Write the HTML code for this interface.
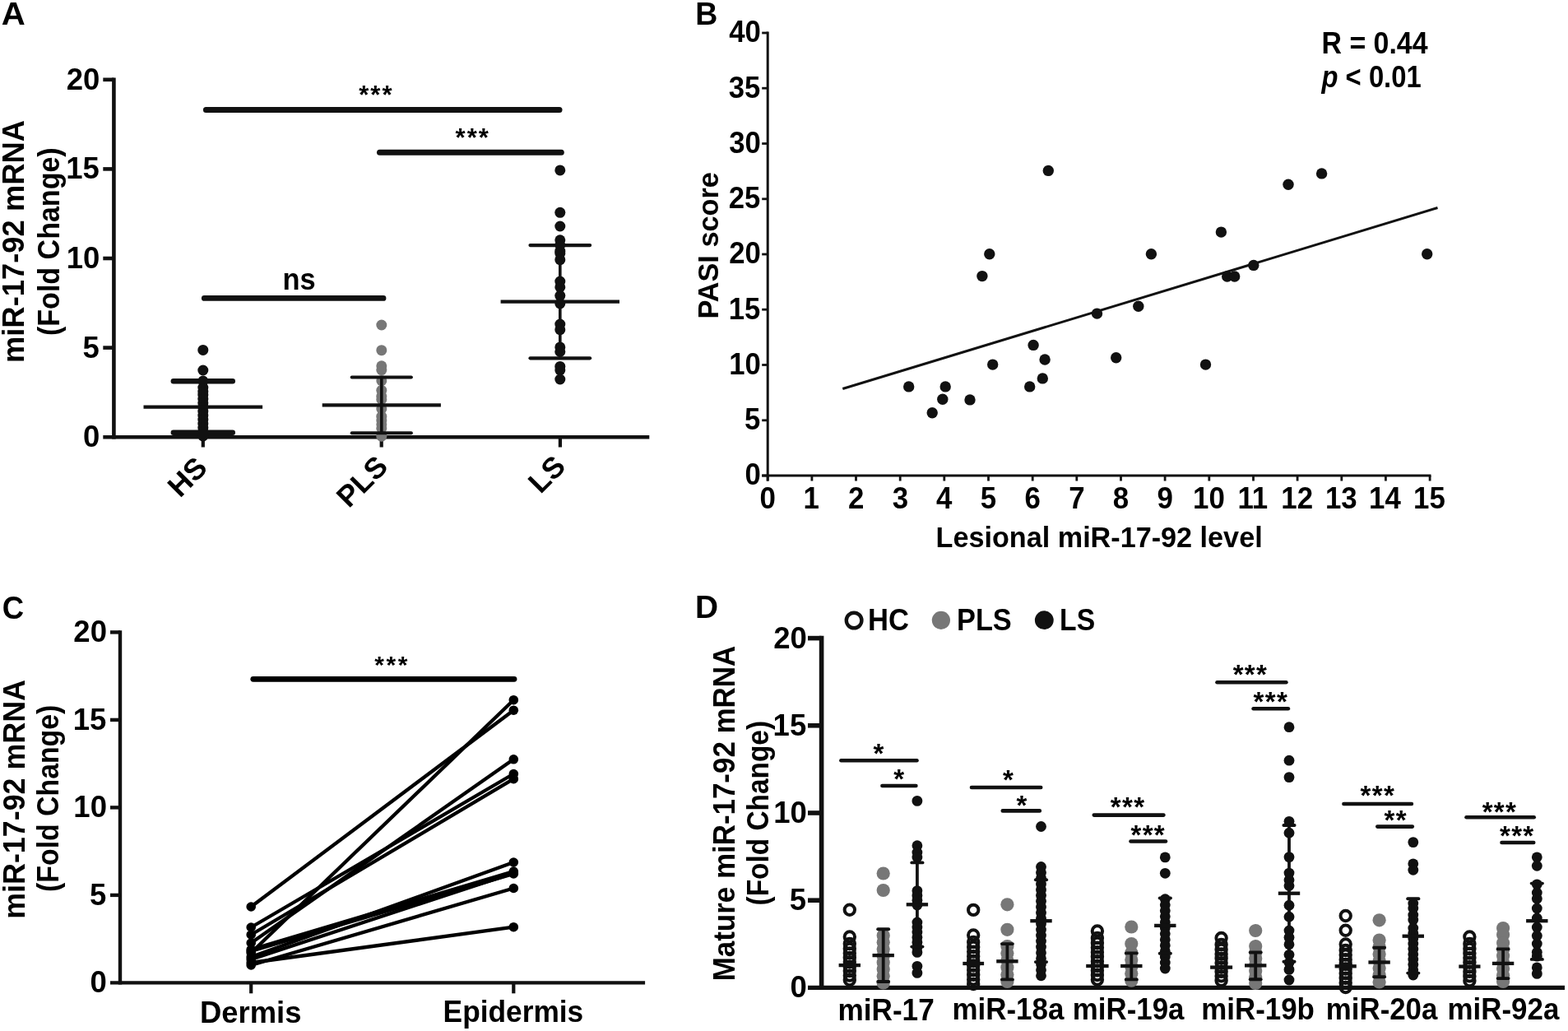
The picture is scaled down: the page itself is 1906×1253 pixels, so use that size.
<!DOCTYPE html>
<html><head><meta charset="utf-8"><style>
html,body{margin:0;padding:0;background:#fff;}
svg{display:block;}
text{font-family:"Liberation Sans", Arial, Helvetica, sans-serif;font-weight:bold;fill:#000;}
</style></head><body>
<svg width="1906" height="1253" viewBox="0 0 1906 1253">
<rect width="1906" height="1253" fill="#fff"/>
<text x="1.70" y="30.40" font-size="39.5" textLength="29.00" lengthAdjust="spacingAndGlyphs">A</text>
<line x1="138.4" y1="94.5" x2="138.4" y2="533.4" stroke="#111" stroke-width="4.6" stroke-linecap="butt"/>
<line x1="125.3" y1="531.2" x2="789.3" y2="531.2" stroke="#111" stroke-width="4.4" stroke-linecap="butt"/>
<line x1="125.3" y1="422.6" x2="138.4" y2="422.6" stroke="#111" stroke-width="4.6" stroke-linecap="butt"/>
<line x1="125.3" y1="314.0" x2="138.4" y2="314.0" stroke="#111" stroke-width="4.6" stroke-linecap="butt"/>
<line x1="125.3" y1="205.4" x2="138.4" y2="205.4" stroke="#111" stroke-width="4.6" stroke-linecap="butt"/>
<line x1="125.3" y1="96.8" x2="138.4" y2="96.8" stroke="#111" stroke-width="4.6" stroke-linecap="butt"/>
<text x="121.30" y="543.20" font-size="36.5" text-anchor="end">0</text>
<text x="120.76" y="434.60" font-size="36.5" text-anchor="end">5</text>
<text x="121.35" y="326.00" font-size="36.5" text-anchor="end">10</text>
<text x="120.80" y="217.40" font-size="36.5" text-anchor="end">15</text>
<text x="121.35" y="108.80" font-size="36.5" text-anchor="end">20</text>
<line x1="246.8" y1="531.2" x2="246.8" y2="543.5" stroke="#111" stroke-width="4.2" stroke-linecap="butt"/>
<line x1="463.7" y1="531.2" x2="463.7" y2="543.5" stroke="#111" stroke-width="4.2" stroke-linecap="butt"/>
<line x1="680.9" y1="531.2" x2="680.9" y2="543.5" stroke="#111" stroke-width="4.2" stroke-linecap="butt"/>
<text x="254.0" y="570.6" font-size="36" text-anchor="end" transform="rotate(-45 254.0 570.6)">HS</text>
<text x="473.6" y="569.1" font-size="36" text-anchor="end" transform="rotate(-45 473.6 569.1)">PLS</text>
<text x="689.5" y="568.8" font-size="36" text-anchor="end" transform="rotate(-45 689.5 568.8)">LS</text>
<text x="29.20" y="441.06" font-size="36.4" textLength="295.10" lengthAdjust="spacingAndGlyphs" transform="rotate(-90 29.20 441.06)">miR-17-92 mRNA</text>
<text x="72.10" y="408.00" font-size="36.4" textLength="228.68" lengthAdjust="spacingAndGlyphs" transform="rotate(-90 72.10 408.00)">(Fold Change)</text>
<circle cx="246.8" cy="425.4" r="6.5" fill="#111"/>
<circle cx="246.8" cy="450.0" r="6.5" fill="#111"/>
<circle cx="246.8" cy="463.0" r="6.5" fill="#111"/>
<circle cx="246.8" cy="471.0" r="6.5" fill="#111"/>
<circle cx="246.8" cy="476.0" r="6.5" fill="#111"/>
<circle cx="246.8" cy="480.0" r="6.5" fill="#111"/>
<circle cx="246.8" cy="485.0" r="6.5" fill="#111"/>
<circle cx="246.8" cy="490.0" r="6.5" fill="#111"/>
<circle cx="246.8" cy="495.0" r="6.5" fill="#111"/>
<circle cx="246.8" cy="500.0" r="6.5" fill="#111"/>
<circle cx="246.8" cy="505.0" r="6.5" fill="#111"/>
<circle cx="246.8" cy="510.0" r="6.5" fill="#111"/>
<circle cx="246.8" cy="515.0" r="6.5" fill="#111"/>
<circle cx="246.8" cy="520.0" r="6.5" fill="#111"/>
<circle cx="246.8" cy="525.0" r="6.5" fill="#111"/>
<circle cx="246.8" cy="530.0" r="6.5" fill="#111"/>
<line x1="246.8" y1="463.3" x2="246.8" y2="525.8" stroke="#111" stroke-width="3.6" stroke-linecap="butt"/>
<line x1="174.5" y1="494.6" x2="319.1" y2="494.6" stroke="#111" stroke-width="4.3" stroke-linecap="butt"/>
<line x1="210.8" y1="463.3" x2="282.8" y2="463.3" stroke="#111" stroke-width="6.4" stroke-linecap="round"/>
<line x1="210.8" y1="525.8" x2="282.8" y2="525.8" stroke="#111" stroke-width="6.4" stroke-linecap="round"/>
<circle cx="463.8" cy="395.0" r="6.5" fill="#777"/>
<circle cx="463.8" cy="425.7" r="6.5" fill="#777"/>
<circle cx="463.8" cy="444.8" r="6.5" fill="#777"/>
<circle cx="463.8" cy="449.6" r="6.5" fill="#777"/>
<circle cx="463.8" cy="462.7" r="6.5" fill="#777"/>
<circle cx="463.8" cy="474.3" r="6.5" fill="#777"/>
<circle cx="463.8" cy="481.5" r="6.5" fill="#777"/>
<circle cx="463.8" cy="485.5" r="6.5" fill="#777"/>
<circle cx="463.8" cy="497.0" r="6.5" fill="#777"/>
<circle cx="463.8" cy="506.2" r="6.5" fill="#777"/>
<circle cx="463.8" cy="511.0" r="6.5" fill="#777"/>
<circle cx="463.8" cy="515.8" r="6.5" fill="#777"/>
<circle cx="463.8" cy="520.6" r="6.5" fill="#777"/>
<circle cx="463.8" cy="530.2" r="6.5" fill="#777"/>
<line x1="463.8" y1="458.4" x2="463.8" y2="526.2" stroke="#111" stroke-width="3.6" stroke-linecap="butt"/>
<line x1="391.7" y1="492.3" x2="535.9" y2="492.3" stroke="#111" stroke-width="4.3" stroke-linecap="butt"/>
<line x1="427.7" y1="458.4" x2="499.9" y2="458.4" stroke="#111" stroke-width="4.0" stroke-linecap="round"/>
<line x1="427.7" y1="526.2" x2="499.9" y2="526.2" stroke="#111" stroke-width="4.0" stroke-linecap="round"/>
<circle cx="680.8" cy="206.9" r="6.5" fill="#111"/>
<circle cx="680.8" cy="258.3" r="6.5" fill="#111"/>
<circle cx="680.8" cy="275.0" r="6.5" fill="#111"/>
<circle cx="680.8" cy="291.8" r="6.5" fill="#111"/>
<circle cx="680.8" cy="298.0" r="6.5" fill="#111"/>
<circle cx="680.8" cy="305.2" r="6.5" fill="#111"/>
<circle cx="680.8" cy="308.1" r="6.5" fill="#111"/>
<circle cx="680.8" cy="315.7" r="6.5" fill="#111"/>
<circle cx="680.8" cy="342.1" r="6.5" fill="#111"/>
<circle cx="680.8" cy="348.9" r="6.5" fill="#111"/>
<circle cx="680.8" cy="359.3" r="6.5" fill="#111"/>
<circle cx="680.8" cy="369.0" r="6.5" fill="#111"/>
<circle cx="680.8" cy="394.0" r="6.5" fill="#111"/>
<circle cx="680.8" cy="400.7" r="6.5" fill="#111"/>
<circle cx="680.8" cy="421.9" r="6.5" fill="#111"/>
<circle cx="680.8" cy="427.5" r="6.5" fill="#111"/>
<circle cx="680.8" cy="445.4" r="6.5" fill="#111"/>
<circle cx="680.8" cy="449.8" r="6.5" fill="#111"/>
<circle cx="680.8" cy="461.0" r="6.5" fill="#111"/>
<line x1="680.8" y1="298.1" x2="680.8" y2="435.3" stroke="#111" stroke-width="3.6" stroke-linecap="butt"/>
<line x1="608.6" y1="366.6" x2="753.0" y2="366.6" stroke="#111" stroke-width="4.3" stroke-linecap="butt"/>
<line x1="644.5" y1="298.1" x2="717.1" y2="298.1" stroke="#111" stroke-width="4.2" stroke-linecap="round"/>
<line x1="644.5" y1="435.3" x2="717.1" y2="435.3" stroke="#111" stroke-width="4.2" stroke-linecap="round"/>
<line x1="250.4" y1="133.6" x2="680.0" y2="133.6" stroke="#111" stroke-width="7" stroke-linecap="round"/>
<text x="436.25 450.36 464.45" y="126.09" font-size="31">***</text>
<line x1="461.5" y1="185.2" x2="682.3" y2="185.2" stroke="#111" stroke-width="7" stroke-linecap="round"/>
<text x="553.56 567.66 581.76" y="177.69" font-size="31">***</text>
<line x1="248.3" y1="362.4" x2="466.0" y2="362.4" stroke="#111" stroke-width="6.8" stroke-linecap="round"/>
<text x="343.46" y="351.60" font-size="36.5" textLength="40.19" lengthAdjust="spacingAndGlyphs">ns</text>
<text x="845.26" y="30.30" font-size="39" textLength="27.11" lengthAdjust="spacingAndGlyphs">B</text>
<line x1="933.2" y1="38.6" x2="933.2" y2="584.5" stroke="#111" stroke-width="3.0" stroke-linecap="butt"/>
<line x1="926.2" y1="578.0" x2="1739.5" y2="578.0" stroke="#111" stroke-width="2.8" stroke-linecap="butt"/>
<line x1="926.2" y1="578.0" x2="933.2" y2="578.0" stroke="#111" stroke-width="2.8" stroke-linecap="butt"/>
<text x="905.55" y="589.30" font-size="36.3" textLength="19.28" lengthAdjust="spacingAndGlyphs">0</text>
<line x1="926.2" y1="510.8" x2="933.2" y2="510.8" stroke="#111" stroke-width="2.8" stroke-linecap="butt"/>
<text x="905.03" y="522.05" font-size="36.3" textLength="19.28" lengthAdjust="spacingAndGlyphs">5</text>
<line x1="926.2" y1="443.5" x2="933.2" y2="443.5" stroke="#111" stroke-width="2.8" stroke-linecap="butt"/>
<text x="886.31" y="454.80" font-size="36.3" textLength="38.56" lengthAdjust="spacingAndGlyphs">10</text>
<line x1="926.2" y1="376.2" x2="933.2" y2="376.2" stroke="#111" stroke-width="2.8" stroke-linecap="butt"/>
<text x="885.79" y="387.55" font-size="36.3" textLength="38.56" lengthAdjust="spacingAndGlyphs">15</text>
<line x1="926.2" y1="309.0" x2="933.2" y2="309.0" stroke="#111" stroke-width="2.8" stroke-linecap="butt"/>
<text x="886.31" y="320.30" font-size="36.3" textLength="38.56" lengthAdjust="spacingAndGlyphs">20</text>
<line x1="926.2" y1="241.8" x2="933.2" y2="241.8" stroke="#111" stroke-width="2.8" stroke-linecap="butt"/>
<text x="885.79" y="253.05" font-size="36.3" textLength="38.56" lengthAdjust="spacingAndGlyphs">25</text>
<line x1="926.2" y1="174.5" x2="933.2" y2="174.5" stroke="#111" stroke-width="2.8" stroke-linecap="butt"/>
<text x="886.31" y="185.80" font-size="36.3" textLength="38.56" lengthAdjust="spacingAndGlyphs">30</text>
<line x1="926.2" y1="107.2" x2="933.2" y2="107.2" stroke="#111" stroke-width="2.8" stroke-linecap="butt"/>
<text x="885.79" y="118.55" font-size="36.3" textLength="38.56" lengthAdjust="spacingAndGlyphs">35</text>
<line x1="926.2" y1="40.0" x2="933.2" y2="40.0" stroke="#111" stroke-width="2.8" stroke-linecap="butt"/>
<text x="886.31" y="51.30" font-size="36.3" textLength="38.56" lengthAdjust="spacingAndGlyphs">40</text>
<line x1="933.2" y1="578.0" x2="933.2" y2="584.5" stroke="#111" stroke-width="2.8" stroke-linecap="butt"/>
<text x="923.53" y="617.90" font-size="36.3" textLength="19.38" lengthAdjust="spacingAndGlyphs">0</text>
<line x1="986.9" y1="578.0" x2="986.9" y2="584.5" stroke="#111" stroke-width="2.8" stroke-linecap="butt"/>
<text x="976.49" y="617.90" font-size="36.3" textLength="19.38" lengthAdjust="spacingAndGlyphs">1</text>
<line x1="1040.5" y1="578.0" x2="1040.5" y2="584.5" stroke="#111" stroke-width="2.8" stroke-linecap="butt"/>
<text x="1030.94" y="617.90" font-size="36.3" textLength="19.38" lengthAdjust="spacingAndGlyphs">2</text>
<line x1="1094.2" y1="578.0" x2="1094.2" y2="584.5" stroke="#111" stroke-width="2.8" stroke-linecap="butt"/>
<text x="1084.68" y="617.90" font-size="36.3" textLength="19.38" lengthAdjust="spacingAndGlyphs">3</text>
<line x1="1147.8" y1="578.0" x2="1147.8" y2="584.5" stroke="#111" stroke-width="2.8" stroke-linecap="butt"/>
<text x="1138.00" y="617.90" font-size="36.3" textLength="19.38" lengthAdjust="spacingAndGlyphs">4</text>
<line x1="1201.5" y1="578.0" x2="1201.5" y2="584.5" stroke="#111" stroke-width="2.8" stroke-linecap="butt"/>
<text x="1191.74" y="617.90" font-size="36.3" textLength="19.38" lengthAdjust="spacingAndGlyphs">5</text>
<line x1="1255.2" y1="578.0" x2="1255.2" y2="584.5" stroke="#111" stroke-width="2.8" stroke-linecap="butt"/>
<text x="1245.49" y="617.90" font-size="36.3" textLength="19.38" lengthAdjust="spacingAndGlyphs">6</text>
<line x1="1308.8" y1="578.0" x2="1308.8" y2="584.5" stroke="#111" stroke-width="2.8" stroke-linecap="butt"/>
<text x="1299.15" y="617.90" font-size="36.3" textLength="19.38" lengthAdjust="spacingAndGlyphs">7</text>
<line x1="1362.5" y1="578.0" x2="1362.5" y2="584.5" stroke="#111" stroke-width="2.8" stroke-linecap="butt"/>
<text x="1352.81" y="617.90" font-size="36.3" textLength="19.38" lengthAdjust="spacingAndGlyphs">8</text>
<line x1="1416.1" y1="578.0" x2="1416.1" y2="584.5" stroke="#111" stroke-width="2.8" stroke-linecap="butt"/>
<text x="1406.47" y="617.90" font-size="36.3" textLength="19.38" lengthAdjust="spacingAndGlyphs">9</text>
<line x1="1469.8" y1="578.0" x2="1469.8" y2="584.5" stroke="#111" stroke-width="2.8" stroke-linecap="butt"/>
<text x="1450.02" y="617.90" font-size="36.3" textLength="38.76" lengthAdjust="spacingAndGlyphs">10</text>
<line x1="1523.5" y1="578.0" x2="1523.5" y2="584.5" stroke="#111" stroke-width="2.8" stroke-linecap="butt"/>
<text x="1504.38" y="617.90" font-size="36.3" textLength="36.84" lengthAdjust="spacingAndGlyphs">11</text>
<line x1="1577.1" y1="578.0" x2="1577.1" y2="584.5" stroke="#111" stroke-width="2.8" stroke-linecap="butt"/>
<text x="1557.34" y="617.90" font-size="36.3" textLength="38.76" lengthAdjust="spacingAndGlyphs">12</text>
<line x1="1630.8" y1="578.0" x2="1630.8" y2="584.5" stroke="#111" stroke-width="2.8" stroke-linecap="butt"/>
<text x="1610.92" y="617.90" font-size="36.3" textLength="38.76" lengthAdjust="spacingAndGlyphs">13</text>
<line x1="1684.4" y1="578.0" x2="1684.4" y2="584.5" stroke="#111" stroke-width="2.8" stroke-linecap="butt"/>
<text x="1664.05" y="617.90" font-size="36.3" textLength="38.76" lengthAdjust="spacingAndGlyphs">14</text>
<line x1="1738.1" y1="578.0" x2="1738.1" y2="584.5" stroke="#111" stroke-width="2.8" stroke-linecap="butt"/>
<text x="1718.06" y="617.90" font-size="36.3" textLength="38.76" lengthAdjust="spacingAndGlyphs">15</text>
<text x="1137.58" y="665.00" font-size="34.5" textLength="397.06" lengthAdjust="spacingAndGlyphs">Lesional miR-17-92 level</text>
<text x="872.70" y="387.53" font-size="35.3" textLength="178.37" lengthAdjust="spacingAndGlyphs" transform="rotate(-90 872.70 387.53)">PASI score</text>
<text x="1606.50" y="64.70" font-size="36.4" textLength="129.08" lengthAdjust="spacingAndGlyphs">R = 0.44</text>
<text x="1606.5" y="106.0" font-size="36.4" text-anchor="start" textLength="121.2" lengthAdjust="spacingAndGlyphs"><tspan font-style="italic">p</tspan> &lt; 0.01</text>
<line x1="1024.3" y1="472.5" x2="1747.5" y2="252.5" stroke="#111" stroke-width="3.0" stroke-linecap="butt"/>
<circle cx="1104.7" cy="469.9" r="6.7" fill="#111"/>
<circle cx="1133.2" cy="501.8" r="6.7" fill="#111"/>
<circle cx="1145.8" cy="485.3" r="6.7" fill="#111"/>
<circle cx="1149.2" cy="469.9" r="6.7" fill="#111"/>
<circle cx="1179.0" cy="485.9" r="6.7" fill="#111"/>
<circle cx="1193.9" cy="335.6" r="6.7" fill="#111"/>
<circle cx="1202.8" cy="308.8" r="6.7" fill="#111"/>
<circle cx="1206.7" cy="443.1" r="6.7" fill="#111"/>
<circle cx="1251.7" cy="469.9" r="6.7" fill="#111"/>
<circle cx="1256.1" cy="419.4" r="6.7" fill="#111"/>
<circle cx="1267.3" cy="459.9" r="6.7" fill="#111"/>
<circle cx="1270.1" cy="437.0" r="6.7" fill="#111"/>
<circle cx="1274.3" cy="207.4" r="6.7" fill="#111"/>
<circle cx="1333.5" cy="381.1" r="6.7" fill="#111"/>
<circle cx="1356.7" cy="434.7" r="6.7" fill="#111"/>
<circle cx="1383.8" cy="372.2" r="6.7" fill="#111"/>
<circle cx="1399.4" cy="308.8" r="6.7" fill="#111"/>
<circle cx="1465.5" cy="443.1" r="6.7" fill="#111"/>
<circle cx="1484.4" cy="282.1" r="6.7" fill="#111"/>
<circle cx="1491.7" cy="336.0" r="6.7" fill="#111"/>
<circle cx="1500.7" cy="336.0" r="6.7" fill="#111"/>
<circle cx="1523.8" cy="322.4" r="6.7" fill="#111"/>
<circle cx="1566.0" cy="224.2" r="6.7" fill="#111"/>
<circle cx="1606.6" cy="210.9" r="6.7" fill="#111"/>
<circle cx="1734.7" cy="308.8" r="6.7" fill="#111"/>
<text x="2.64" y="752.00" font-size="39.5" textLength="26.35" lengthAdjust="spacingAndGlyphs">C</text>
<line x1="146.0" y1="766.2" x2="146.0" y2="1196.6" stroke="#111" stroke-width="4.4" stroke-linecap="butt"/>
<line x1="134.0" y1="1194.4" x2="784.1" y2="1194.4" stroke="#111" stroke-width="4.4" stroke-linecap="butt"/>
<line x1="134.0" y1="1087.9" x2="146.0" y2="1087.9" stroke="#111" stroke-width="4.4" stroke-linecap="butt"/>
<line x1="134.0" y1="981.4" x2="146.0" y2="981.4" stroke="#111" stroke-width="4.4" stroke-linecap="butt"/>
<line x1="134.0" y1="874.9" x2="146.0" y2="874.9" stroke="#111" stroke-width="4.4" stroke-linecap="butt"/>
<line x1="134.0" y1="768.4" x2="146.0" y2="768.4" stroke="#111" stroke-width="4.4" stroke-linecap="butt"/>
<text x="129.90" y="1206.30" font-size="36.5" text-anchor="end">0</text>
<text x="129.36" y="1099.80" font-size="36.5" text-anchor="end">5</text>
<text x="129.95" y="993.30" font-size="36.5" text-anchor="end">10</text>
<text x="129.40" y="886.80" font-size="36.5" text-anchor="end">15</text>
<text x="129.95" y="780.30" font-size="36.5" text-anchor="end">20</text>
<line x1="305.2" y1="1194.4" x2="305.2" y2="1207.3" stroke="#111" stroke-width="4.2" stroke-linecap="butt"/>
<line x1="624.3" y1="1194.4" x2="624.3" y2="1207.3" stroke="#111" stroke-width="4.2" stroke-linecap="butt"/>
<text x="242.93" y="1242.60" font-size="36.5" textLength="123.55" lengthAdjust="spacingAndGlyphs">Dermis</text>
<text x="538.61" y="1242.40" font-size="36.5" textLength="170.60" lengthAdjust="spacingAndGlyphs">Epidermis</text>
<text x="29.80" y="1116.73" font-size="36.4" textLength="290.65" lengthAdjust="spacingAndGlyphs" transform="rotate(-90 29.80 1116.73)">miR-17-92 mRNA</text>
<text x="71.30" y="1083.89" font-size="36.4" textLength="227.16" lengthAdjust="spacingAndGlyphs" transform="rotate(-90 71.30 1083.89)">(Fold Change)</text>
<line x1="307.8" y1="825.3" x2="625.0" y2="825.3" stroke="#000" stroke-width="6.8" stroke-linecap="round"/>
<text x="455.35 469.55 483.75" y="817.50" font-size="30">***</text>
<line x1="305.2" y1="1102.0" x2="624.3" y2="863.2" stroke="#000" stroke-width="4.3" stroke-linecap="round"/>
<line x1="305.2" y1="1158.0" x2="624.3" y2="850.7" stroke="#000" stroke-width="4.3" stroke-linecap="round"/>
<line x1="305.2" y1="1146.0" x2="624.3" y2="922.8" stroke="#000" stroke-width="4.3" stroke-linecap="round"/>
<line x1="305.2" y1="1127.0" x2="624.3" y2="940.5" stroke="#000" stroke-width="4.3" stroke-linecap="round"/>
<line x1="305.2" y1="1136.0" x2="624.3" y2="946.7" stroke="#000" stroke-width="4.3" stroke-linecap="round"/>
<line x1="305.2" y1="1163.0" x2="624.3" y2="1048.0" stroke="#000" stroke-width="4.3" stroke-linecap="round"/>
<line x1="305.2" y1="1154.0" x2="624.3" y2="1059.1" stroke="#000" stroke-width="4.3" stroke-linecap="round"/>
<line x1="305.2" y1="1156.0" x2="624.3" y2="1061.9" stroke="#000" stroke-width="4.3" stroke-linecap="round"/>
<line x1="305.2" y1="1173.0" x2="624.3" y2="1079.5" stroke="#000" stroke-width="4.3" stroke-linecap="round"/>
<line x1="305.2" y1="1170.0" x2="624.3" y2="1126.7" stroke="#000" stroke-width="4.3" stroke-linecap="round"/>
<line x1="305.2" y1="1166.0" x2="624.3" y2="1061.0" stroke="#000" stroke-width="4.3" stroke-linecap="round"/>
<circle cx="305.2" cy="1102.0" r="5.8" fill="#000"/>
<circle cx="624.3" cy="863.2" r="5.8" fill="#000"/>
<circle cx="305.2" cy="1158.0" r="5.8" fill="#000"/>
<circle cx="624.3" cy="850.7" r="5.8" fill="#000"/>
<circle cx="305.2" cy="1146.0" r="5.8" fill="#000"/>
<circle cx="624.3" cy="922.8" r="5.8" fill="#000"/>
<circle cx="305.2" cy="1127.0" r="5.8" fill="#000"/>
<circle cx="624.3" cy="940.5" r="5.8" fill="#000"/>
<circle cx="305.2" cy="1136.0" r="5.8" fill="#000"/>
<circle cx="624.3" cy="946.7" r="5.8" fill="#000"/>
<circle cx="305.2" cy="1163.0" r="5.8" fill="#000"/>
<circle cx="624.3" cy="1048.0" r="5.8" fill="#000"/>
<circle cx="305.2" cy="1154.0" r="5.8" fill="#000"/>
<circle cx="624.3" cy="1059.1" r="5.8" fill="#000"/>
<circle cx="305.2" cy="1156.0" r="5.8" fill="#000"/>
<circle cx="624.3" cy="1061.9" r="5.8" fill="#000"/>
<circle cx="305.2" cy="1173.0" r="5.8" fill="#000"/>
<circle cx="624.3" cy="1079.5" r="5.8" fill="#000"/>
<circle cx="305.2" cy="1170.0" r="5.8" fill="#000"/>
<circle cx="624.3" cy="1126.7" r="5.8" fill="#000"/>
<circle cx="305.2" cy="1166.0" r="5.8" fill="#000"/>
<circle cx="624.3" cy="1061.0" r="5.8" fill="#000"/>
<text x="844.97" y="751.20" font-size="39" textLength="28.07" lengthAdjust="spacingAndGlyphs">D</text>
<line x1="998.6" y1="772.8" x2="998.6" y2="1203.1" stroke="#111" stroke-width="5.6" stroke-linecap="butt"/>
<line x1="982.0" y1="1200.4" x2="1902.0" y2="1200.4" stroke="#111" stroke-width="5.3" stroke-linecap="butt"/>
<line x1="982.0" y1="1094.2" x2="998.6" y2="1094.2" stroke="#111" stroke-width="5.6" stroke-linecap="butt"/>
<line x1="982.0" y1="988.0" x2="998.6" y2="988.0" stroke="#111" stroke-width="5.6" stroke-linecap="butt"/>
<line x1="982.0" y1="881.8" x2="998.6" y2="881.8" stroke="#111" stroke-width="5.6" stroke-linecap="butt"/>
<line x1="982.0" y1="775.6" x2="998.6" y2="775.6" stroke="#111" stroke-width="5.6" stroke-linecap="butt"/>
<text x="980.70" y="1212.40" font-size="36.5" text-anchor="end">0</text>
<text x="980.16" y="1106.20" font-size="36.5" text-anchor="end">5</text>
<text x="980.75" y="1000.00" font-size="36.5" text-anchor="end">10</text>
<text x="980.20" y="893.80" font-size="36.5" text-anchor="end">15</text>
<text x="980.75" y="787.60" font-size="36.5" text-anchor="end">20</text>
<text x="893.10" y="1192.27" font-size="36.5" textLength="407.53" lengthAdjust="spacingAndGlyphs" transform="rotate(-90 893.10 1192.27)">Mature miR-17-92 mRNA</text>
<text x="934.00" y="1100.47" font-size="36.5" textLength="224.52" lengthAdjust="spacingAndGlyphs" transform="rotate(-90 934.00 1100.47)">(Fold Change)</text>
<circle cx="1038.1" cy="754.0" r="9.3" fill="none" stroke="#111" stroke-width="4.4"/>
<text x="1055.05" y="766.00" font-size="36.5" textLength="49.96" lengthAdjust="spacingAndGlyphs">HC</text>
<circle cx="1143.9" cy="753.8" r="11.1" fill="#777"/>
<text x="1162.97" y="766.00" font-size="36.5" textLength="66.83" lengthAdjust="spacingAndGlyphs">PLS</text>
<circle cx="1269.3" cy="753.7" r="11.4" fill="#111"/>
<text x="1288.11" y="766.00" font-size="36.5" textLength="43.07" lengthAdjust="spacingAndGlyphs">LS</text>
<text x="1018.41" y="1240.30" font-size="36.5" textLength="117.35" lengthAdjust="spacingAndGlyphs">miR-17</text>
<text x="1157.43" y="1238.50" font-size="36.5" textLength="135.95" lengthAdjust="spacingAndGlyphs">miR-18a</text>
<text x="1303.83" y="1238.50" font-size="36.5" textLength="135.64" lengthAdjust="spacingAndGlyphs">miR-19a</text>
<text x="1460.23" y="1238.50" font-size="36.5" textLength="137.68" lengthAdjust="spacingAndGlyphs">miR-19b</text>
<text x="1611.84" y="1238.50" font-size="36.5" textLength="135.54" lengthAdjust="spacingAndGlyphs">miR-20a</text>
<text x="1759.53" y="1238.50" font-size="36.5" textLength="135.84" lengthAdjust="spacingAndGlyphs">miR-92a</text>
<circle cx="1032.8" cy="1105.8" r="6.2" fill="none" stroke="#111" stroke-width="4.0"/>
<circle cx="1032.8" cy="1138.5" r="6.2" fill="none" stroke="#111" stroke-width="4.0"/>
<circle cx="1032.8" cy="1147.0" r="6.2" fill="none" stroke="#111" stroke-width="4.0"/>
<circle cx="1032.8" cy="1153.0" r="6.2" fill="none" stroke="#111" stroke-width="4.0"/>
<circle cx="1032.8" cy="1158.4" r="6.2" fill="none" stroke="#111" stroke-width="4.0"/>
<circle cx="1032.8" cy="1163.9" r="6.2" fill="none" stroke="#111" stroke-width="4.0"/>
<circle cx="1032.8" cy="1169.3" r="6.2" fill="none" stroke="#111" stroke-width="4.0"/>
<circle cx="1032.8" cy="1174.7" r="6.2" fill="none" stroke="#111" stroke-width="4.0"/>
<circle cx="1032.8" cy="1180.1" r="6.2" fill="none" stroke="#111" stroke-width="4.0"/>
<circle cx="1032.8" cy="1185.6" r="6.2" fill="none" stroke="#111" stroke-width="4.0"/>
<circle cx="1032.8" cy="1191.0" r="6.2" fill="none" stroke="#111" stroke-width="4.0"/>
<line x1="1019.6" y1="1173.1" x2="1046.0" y2="1173.1" stroke="#111" stroke-width="4.3" stroke-linecap="butt"/>
<circle cx="1073.7" cy="1061.5" r="8.1" fill="#777"/>
<circle cx="1073.7" cy="1082.0" r="8.1" fill="#777"/>
<circle cx="1073.7" cy="1137.0" r="8.1" fill="#777"/>
<circle cx="1073.7" cy="1145.2" r="8.1" fill="#777"/>
<circle cx="1073.7" cy="1153.4" r="8.1" fill="#777"/>
<circle cx="1073.7" cy="1161.6" r="8.1" fill="#777"/>
<circle cx="1073.7" cy="1169.8" r="8.1" fill="#777"/>
<circle cx="1073.7" cy="1178.0" r="8.1" fill="#777"/>
<circle cx="1073.7" cy="1186.2" r="8.1" fill="#777"/>
<circle cx="1073.7" cy="1194.4" r="8.1" fill="#777"/>
<line x1="1073.7" y1="1129.3" x2="1073.7" y2="1193.0" stroke="#111" stroke-width="3.8" stroke-linecap="butt"/>
<line x1="1060.5" y1="1161.1" x2="1086.9" y2="1161.1" stroke="#111" stroke-width="4.3" stroke-linecap="butt"/>
<line x1="1067.2" y1="1129.3" x2="1080.2" y2="1129.3" stroke="#111" stroke-width="3.9" stroke-linecap="round"/>
<line x1="1067.2" y1="1193.0" x2="1080.2" y2="1193.0" stroke="#111" stroke-width="3.9" stroke-linecap="round"/>
<circle cx="1114.9" cy="973.4" r="6.4" fill="#111"/>
<circle cx="1114.9" cy="1027.7" r="6.4" fill="#111"/>
<circle cx="1114.9" cy="1036.0" r="6.4" fill="#111"/>
<circle cx="1114.9" cy="1042.0" r="6.4" fill="#111"/>
<circle cx="1114.9" cy="1082.6" r="6.4" fill="#111"/>
<circle cx="1114.9" cy="1088.4" r="6.4" fill="#111"/>
<circle cx="1114.9" cy="1094.2" r="6.4" fill="#111"/>
<circle cx="1114.9" cy="1100.0" r="6.4" fill="#111"/>
<circle cx="1114.9" cy="1121.0" r="6.4" fill="#111"/>
<circle cx="1114.9" cy="1127.1" r="6.4" fill="#111"/>
<circle cx="1114.9" cy="1133.1" r="6.4" fill="#111"/>
<circle cx="1114.9" cy="1139.2" r="6.4" fill="#111"/>
<circle cx="1114.9" cy="1145.3" r="6.4" fill="#111"/>
<circle cx="1114.9" cy="1151.3" r="6.4" fill="#111"/>
<circle cx="1114.9" cy="1157.4" r="6.4" fill="#111"/>
<circle cx="1114.9" cy="1174.3" r="6.4" fill="#111"/>
<circle cx="1114.9" cy="1182.4" r="6.4" fill="#111"/>
<line x1="1114.9" y1="1048.4" x2="1114.9" y2="1150.6" stroke="#111" stroke-width="3.8" stroke-linecap="butt"/>
<line x1="1101.7" y1="1099.3" x2="1128.1" y2="1099.3" stroke="#111" stroke-width="4.3" stroke-linecap="butt"/>
<line x1="1108.3" y1="1048.4" x2="1121.5" y2="1048.4" stroke="#111" stroke-width="3.9" stroke-linecap="round"/>
<line x1="1108.3" y1="1150.6" x2="1121.5" y2="1150.6" stroke="#111" stroke-width="3.9" stroke-linecap="round"/>
<line x1="1022.4" y1="924.3" x2="1114.5" y2="924.3" stroke="#111" stroke-width="4.6" stroke-linecap="round"/>
<text x="1061.57" y="926.97" font-size="33">*</text>
<line x1="1072.4" y1="955.0" x2="1113.4" y2="955.0" stroke="#111" stroke-width="4.6" stroke-linecap="round"/>
<text x="1086.37" y="957.87" font-size="33">*</text>
<circle cx="1183.2" cy="1105.9" r="6.2" fill="none" stroke="#111" stroke-width="4.0"/>
<circle cx="1183.2" cy="1136.5" r="6.2" fill="none" stroke="#111" stroke-width="4.0"/>
<circle cx="1183.2" cy="1145.0" r="6.2" fill="none" stroke="#111" stroke-width="4.0"/>
<circle cx="1183.2" cy="1151.0" r="6.2" fill="none" stroke="#111" stroke-width="4.0"/>
<circle cx="1183.2" cy="1156.6" r="6.2" fill="none" stroke="#111" stroke-width="4.0"/>
<circle cx="1183.2" cy="1162.2" r="6.2" fill="none" stroke="#111" stroke-width="4.0"/>
<circle cx="1183.2" cy="1167.9" r="6.2" fill="none" stroke="#111" stroke-width="4.0"/>
<circle cx="1183.2" cy="1173.5" r="6.2" fill="none" stroke="#111" stroke-width="4.0"/>
<circle cx="1183.2" cy="1179.1" r="6.2" fill="none" stroke="#111" stroke-width="4.0"/>
<circle cx="1183.2" cy="1184.8" r="6.2" fill="none" stroke="#111" stroke-width="4.0"/>
<circle cx="1183.2" cy="1190.4" r="6.2" fill="none" stroke="#111" stroke-width="4.0"/>
<circle cx="1183.2" cy="1196.0" r="6.2" fill="none" stroke="#111" stroke-width="4.0"/>
<line x1="1170.3" y1="1171.0" x2="1196.1" y2="1171.0" stroke="#111" stroke-width="4.3" stroke-linecap="butt"/>
<circle cx="1224.4" cy="1099.3" r="8.1" fill="#777"/>
<circle cx="1224.4" cy="1129.8" r="8.1" fill="#777"/>
<circle cx="1224.4" cy="1150.0" r="8.1" fill="#777"/>
<circle cx="1224.4" cy="1158.6" r="8.1" fill="#777"/>
<circle cx="1224.4" cy="1167.2" r="8.1" fill="#777"/>
<circle cx="1224.4" cy="1175.8" r="8.1" fill="#777"/>
<circle cx="1224.4" cy="1184.4" r="8.1" fill="#777"/>
<circle cx="1224.4" cy="1193.0" r="8.1" fill="#777"/>
<line x1="1224.4" y1="1147.1" x2="1224.4" y2="1190.4" stroke="#111" stroke-width="3.8" stroke-linecap="butt"/>
<line x1="1211.2" y1="1168.3" x2="1237.6" y2="1168.3" stroke="#111" stroke-width="4.3" stroke-linecap="butt"/>
<line x1="1217.9" y1="1147.1" x2="1230.9" y2="1147.1" stroke="#111" stroke-width="3.9" stroke-linecap="round"/>
<line x1="1217.9" y1="1190.4" x2="1230.9" y2="1190.4" stroke="#111" stroke-width="3.9" stroke-linecap="round"/>
<circle cx="1265.5" cy="1004.5" r="6.4" fill="#111"/>
<circle cx="1265.5" cy="1053.5" r="6.4" fill="#111"/>
<circle cx="1265.5" cy="1060.5" r="6.4" fill="#111"/>
<circle cx="1265.5" cy="1067.4" r="6.4" fill="#111"/>
<circle cx="1265.5" cy="1074.4" r="6.4" fill="#111"/>
<circle cx="1265.5" cy="1081.4" r="6.4" fill="#111"/>
<circle cx="1265.5" cy="1088.3" r="6.4" fill="#111"/>
<circle cx="1265.5" cy="1095.3" r="6.4" fill="#111"/>
<circle cx="1265.5" cy="1102.2" r="6.4" fill="#111"/>
<circle cx="1265.5" cy="1109.2" r="6.4" fill="#111"/>
<circle cx="1265.5" cy="1116.2" r="6.4" fill="#111"/>
<circle cx="1265.5" cy="1123.1" r="6.4" fill="#111"/>
<circle cx="1265.5" cy="1130.1" r="6.4" fill="#111"/>
<circle cx="1265.5" cy="1137.1" r="6.4" fill="#111"/>
<circle cx="1265.5" cy="1144.0" r="6.4" fill="#111"/>
<circle cx="1265.5" cy="1151.0" r="6.4" fill="#111"/>
<circle cx="1265.5" cy="1157.9" r="6.4" fill="#111"/>
<circle cx="1265.5" cy="1164.9" r="6.4" fill="#111"/>
<circle cx="1265.5" cy="1171.9" r="6.4" fill="#111"/>
<circle cx="1265.5" cy="1178.8" r="6.4" fill="#111"/>
<circle cx="1265.5" cy="1185.8" r="6.4" fill="#111"/>
<line x1="1265.5" y1="1069.3" x2="1265.5" y2="1169.1" stroke="#111" stroke-width="3.8" stroke-linecap="butt"/>
<line x1="1252.3" y1="1119.2" x2="1278.7" y2="1119.2" stroke="#111" stroke-width="4.3" stroke-linecap="butt"/>
<line x1="1258.9" y1="1069.3" x2="1272.1" y2="1069.3" stroke="#111" stroke-width="3.9" stroke-linecap="round"/>
<line x1="1258.9" y1="1169.1" x2="1272.1" y2="1169.1" stroke="#111" stroke-width="3.9" stroke-linecap="round"/>
<line x1="1181.0" y1="957.0" x2="1265.2" y2="957.0" stroke="#111" stroke-width="4.6" stroke-linecap="round"/>
<text x="1219.07" y="958.77" font-size="33">*</text>
<line x1="1218.8" y1="985.4" x2="1263.8" y2="985.4" stroke="#111" stroke-width="4.6" stroke-linecap="round"/>
<text x="1235.57" y="990.47" font-size="33">*</text>
<circle cx="1333.9" cy="1131.5" r="6.2" fill="none" stroke="#111" stroke-width="4.0"/>
<circle cx="1333.9" cy="1140.0" r="6.2" fill="none" stroke="#111" stroke-width="4.0"/>
<circle cx="1333.9" cy="1146.0" r="6.2" fill="none" stroke="#111" stroke-width="4.0"/>
<circle cx="1333.9" cy="1151.6" r="6.2" fill="none" stroke="#111" stroke-width="4.0"/>
<circle cx="1333.9" cy="1157.2" r="6.2" fill="none" stroke="#111" stroke-width="4.0"/>
<circle cx="1333.9" cy="1162.7" r="6.2" fill="none" stroke="#111" stroke-width="4.0"/>
<circle cx="1333.9" cy="1168.3" r="6.2" fill="none" stroke="#111" stroke-width="4.0"/>
<circle cx="1333.9" cy="1173.9" r="6.2" fill="none" stroke="#111" stroke-width="4.0"/>
<circle cx="1333.9" cy="1179.4" r="6.2" fill="none" stroke="#111" stroke-width="4.0"/>
<circle cx="1333.9" cy="1185.0" r="6.2" fill="none" stroke="#111" stroke-width="4.0"/>
<circle cx="1333.9" cy="1190.6" r="6.2" fill="none" stroke="#111" stroke-width="4.0"/>
<line x1="1320.2" y1="1174.0" x2="1347.6" y2="1174.0" stroke="#111" stroke-width="4.3" stroke-linecap="butt"/>
<circle cx="1375.3" cy="1126.5" r="8.1" fill="#777"/>
<circle cx="1375.3" cy="1147.1" r="8.1" fill="#777"/>
<circle cx="1375.3" cy="1158.0" r="8.1" fill="#777"/>
<circle cx="1375.3" cy="1166.4" r="8.1" fill="#777"/>
<circle cx="1375.3" cy="1174.8" r="8.1" fill="#777"/>
<circle cx="1375.3" cy="1183.3" r="8.1" fill="#777"/>
<circle cx="1375.3" cy="1191.7" r="8.1" fill="#777"/>
<line x1="1375.3" y1="1158.4" x2="1375.3" y2="1190.4" stroke="#111" stroke-width="3.8" stroke-linecap="butt"/>
<line x1="1362.1" y1="1174.0" x2="1388.5" y2="1174.0" stroke="#111" stroke-width="4.3" stroke-linecap="butt"/>
<line x1="1368.8" y1="1158.4" x2="1381.8" y2="1158.4" stroke="#111" stroke-width="3.9" stroke-linecap="round"/>
<line x1="1368.8" y1="1190.4" x2="1381.8" y2="1190.4" stroke="#111" stroke-width="3.9" stroke-linecap="round"/>
<circle cx="1416.3" cy="1041.9" r="6.4" fill="#111"/>
<circle cx="1416.3" cy="1061.3" r="6.4" fill="#111"/>
<circle cx="1416.3" cy="1092.7" r="6.4" fill="#111"/>
<circle cx="1416.3" cy="1099.7" r="6.4" fill="#111"/>
<circle cx="1416.3" cy="1106.8" r="6.4" fill="#111"/>
<circle cx="1416.3" cy="1113.8" r="6.4" fill="#111"/>
<circle cx="1416.3" cy="1120.8" r="6.4" fill="#111"/>
<circle cx="1416.3" cy="1127.8" r="6.4" fill="#111"/>
<circle cx="1416.3" cy="1134.8" r="6.4" fill="#111"/>
<circle cx="1416.3" cy="1141.9" r="6.4" fill="#111"/>
<circle cx="1416.3" cy="1148.9" r="6.4" fill="#111"/>
<circle cx="1416.3" cy="1155.9" r="6.4" fill="#111"/>
<circle cx="1416.3" cy="1163.0" r="6.4" fill="#111"/>
<circle cx="1416.3" cy="1170.0" r="6.4" fill="#111"/>
<circle cx="1416.3" cy="1177.0" r="6.4" fill="#111"/>
<line x1="1416.3" y1="1091.5" x2="1416.3" y2="1158.8" stroke="#111" stroke-width="3.8" stroke-linecap="butt"/>
<line x1="1403.1" y1="1124.9" x2="1429.5" y2="1124.9" stroke="#111" stroke-width="4.3" stroke-linecap="butt"/>
<line x1="1409.7" y1="1091.5" x2="1422.9" y2="1091.5" stroke="#111" stroke-width="3.9" stroke-linecap="round"/>
<line x1="1409.7" y1="1158.8" x2="1422.9" y2="1158.8" stroke="#111" stroke-width="3.9" stroke-linecap="round"/>
<line x1="1329.8" y1="990.6" x2="1414.4" y2="990.6" stroke="#111" stroke-width="4.6" stroke-linecap="round"/>
<text x="1349.77 1363.97 1378.17" y="992.27" font-size="33">***</text>
<line x1="1374.5" y1="1022.5" x2="1417.0" y2="1022.5" stroke="#111" stroke-width="4.6" stroke-linecap="round"/>
<text x="1374.46 1388.66 1402.87" y="1025.77" font-size="33">***</text>
<circle cx="1484.6" cy="1140.0" r="6.2" fill="none" stroke="#111" stroke-width="4.0"/>
<circle cx="1484.6" cy="1148.0" r="6.2" fill="none" stroke="#111" stroke-width="4.0"/>
<circle cx="1484.6" cy="1154.0" r="6.2" fill="none" stroke="#111" stroke-width="4.0"/>
<circle cx="1484.6" cy="1159.4" r="6.2" fill="none" stroke="#111" stroke-width="4.0"/>
<circle cx="1484.6" cy="1164.8" r="6.2" fill="none" stroke="#111" stroke-width="4.0"/>
<circle cx="1484.6" cy="1170.2" r="6.2" fill="none" stroke="#111" stroke-width="4.0"/>
<circle cx="1484.6" cy="1175.5" r="6.2" fill="none" stroke="#111" stroke-width="4.0"/>
<circle cx="1484.6" cy="1180.9" r="6.2" fill="none" stroke="#111" stroke-width="4.0"/>
<circle cx="1484.6" cy="1186.3" r="6.2" fill="none" stroke="#111" stroke-width="4.0"/>
<circle cx="1484.6" cy="1191.7" r="6.2" fill="none" stroke="#111" stroke-width="4.0"/>
<line x1="1471.1" y1="1175.6" x2="1498.1" y2="1175.6" stroke="#111" stroke-width="4.3" stroke-linecap="butt"/>
<circle cx="1526.2" cy="1131.0" r="8.1" fill="#777"/>
<circle cx="1526.2" cy="1150.0" r="8.1" fill="#777"/>
<circle cx="1526.2" cy="1157.5" r="8.1" fill="#777"/>
<circle cx="1526.2" cy="1165.0" r="8.1" fill="#777"/>
<circle cx="1526.2" cy="1172.5" r="8.1" fill="#777"/>
<circle cx="1526.2" cy="1180.0" r="8.1" fill="#777"/>
<circle cx="1526.2" cy="1187.5" r="8.1" fill="#777"/>
<circle cx="1526.2" cy="1195.0" r="8.1" fill="#777"/>
<line x1="1526.2" y1="1157.5" x2="1526.2" y2="1190.2" stroke="#111" stroke-width="3.8" stroke-linecap="butt"/>
<line x1="1513.0" y1="1173.4" x2="1539.4" y2="1173.4" stroke="#111" stroke-width="4.3" stroke-linecap="butt"/>
<line x1="1519.7" y1="1157.5" x2="1532.7" y2="1157.5" stroke="#111" stroke-width="3.9" stroke-linecap="round"/>
<line x1="1519.7" y1="1190.2" x2="1532.7" y2="1190.2" stroke="#111" stroke-width="3.9" stroke-linecap="round"/>
<circle cx="1567.0" cy="883.7" r="6.4" fill="#111"/>
<circle cx="1567.0" cy="924.2" r="6.4" fill="#111"/>
<circle cx="1567.0" cy="944.6" r="6.4" fill="#111"/>
<circle cx="1567.0" cy="998.3" r="6.4" fill="#111"/>
<circle cx="1567.0" cy="1012.2" r="6.4" fill="#111"/>
<circle cx="1567.0" cy="1041.6" r="6.4" fill="#111"/>
<circle cx="1567.0" cy="1061.1" r="6.4" fill="#111"/>
<circle cx="1567.0" cy="1069.5" r="6.4" fill="#111"/>
<circle cx="1567.0" cy="1076.5" r="6.4" fill="#111"/>
<circle cx="1567.0" cy="1100.2" r="6.4" fill="#111"/>
<circle cx="1567.0" cy="1114.2" r="6.4" fill="#111"/>
<circle cx="1567.0" cy="1131.0" r="6.4" fill="#111"/>
<circle cx="1567.0" cy="1139.3" r="6.4" fill="#111"/>
<circle cx="1567.0" cy="1147.7" r="6.4" fill="#111"/>
<circle cx="1567.0" cy="1160.3" r="6.4" fill="#111"/>
<circle cx="1567.0" cy="1170.0" r="6.4" fill="#111"/>
<circle cx="1567.0" cy="1178.4" r="6.4" fill="#111"/>
<circle cx="1567.0" cy="1191.0" r="6.4" fill="#111"/>
<line x1="1567.0" y1="1003.0" x2="1567.0" y2="1168.7" stroke="#111" stroke-width="3.8" stroke-linecap="butt"/>
<line x1="1553.8" y1="1085.7" x2="1580.2" y2="1085.7" stroke="#111" stroke-width="4.3" stroke-linecap="butt"/>
<line x1="1560.4" y1="1003.0" x2="1573.6" y2="1003.0" stroke="#111" stroke-width="3.9" stroke-linecap="round"/>
<line x1="1560.4" y1="1168.7" x2="1573.6" y2="1168.7" stroke="#111" stroke-width="3.9" stroke-linecap="round"/>
<line x1="1479.5" y1="829.3" x2="1563.4" y2="829.3" stroke="#111" stroke-width="4.6" stroke-linecap="round"/>
<text x="1498.66 1512.87 1527.07" y="831.17" font-size="33">***</text>
<line x1="1523.6" y1="861.2" x2="1565.9" y2="861.2" stroke="#111" stroke-width="4.6" stroke-linecap="round"/>
<text x="1523.57 1537.77 1551.97" y="863.57" font-size="33">***</text>
<circle cx="1635.7" cy="1113.0" r="6.2" fill="none" stroke="#111" stroke-width="4.0"/>
<circle cx="1635.7" cy="1130.7" r="6.2" fill="none" stroke="#111" stroke-width="4.0"/>
<circle cx="1635.7" cy="1147.5" r="6.2" fill="none" stroke="#111" stroke-width="4.0"/>
<circle cx="1635.7" cy="1155.0" r="6.2" fill="none" stroke="#111" stroke-width="4.0"/>
<circle cx="1635.7" cy="1160.6" r="6.2" fill="none" stroke="#111" stroke-width="4.0"/>
<circle cx="1635.7" cy="1166.2" r="6.2" fill="none" stroke="#111" stroke-width="4.0"/>
<circle cx="1635.7" cy="1171.9" r="6.2" fill="none" stroke="#111" stroke-width="4.0"/>
<circle cx="1635.7" cy="1177.5" r="6.2" fill="none" stroke="#111" stroke-width="4.0"/>
<circle cx="1635.7" cy="1183.1" r="6.2" fill="none" stroke="#111" stroke-width="4.0"/>
<circle cx="1635.7" cy="1188.8" r="6.2" fill="none" stroke="#111" stroke-width="4.0"/>
<circle cx="1635.7" cy="1194.4" r="6.2" fill="none" stroke="#111" stroke-width="4.0"/>
<circle cx="1635.7" cy="1200.0" r="6.2" fill="none" stroke="#111" stroke-width="4.0"/>
<line x1="1622.6" y1="1174.3" x2="1648.8" y2="1174.3" stroke="#111" stroke-width="4.3" stroke-linecap="butt"/>
<circle cx="1676.6" cy="1118.3" r="8.1" fill="#777"/>
<circle cx="1676.6" cy="1142.5" r="8.1" fill="#777"/>
<circle cx="1676.6" cy="1151.0" r="8.1" fill="#777"/>
<circle cx="1676.6" cy="1159.5" r="8.1" fill="#777"/>
<circle cx="1676.6" cy="1168.0" r="8.1" fill="#777"/>
<circle cx="1676.6" cy="1176.5" r="8.1" fill="#777"/>
<circle cx="1676.6" cy="1185.0" r="8.1" fill="#777"/>
<circle cx="1676.6" cy="1193.5" r="8.1" fill="#777"/>
<line x1="1676.6" y1="1151.8" x2="1676.6" y2="1187.2" stroke="#111" stroke-width="3.8" stroke-linecap="butt"/>
<line x1="1663.4" y1="1169.5" x2="1689.8" y2="1169.5" stroke="#111" stroke-width="4.3" stroke-linecap="butt"/>
<line x1="1670.1" y1="1151.8" x2="1683.1" y2="1151.8" stroke="#111" stroke-width="3.9" stroke-linecap="round"/>
<line x1="1670.1" y1="1187.2" x2="1683.1" y2="1187.2" stroke="#111" stroke-width="3.9" stroke-linecap="round"/>
<circle cx="1717.8" cy="1023.6" r="6.4" fill="#111"/>
<circle cx="1717.8" cy="1049.8" r="6.4" fill="#111"/>
<circle cx="1717.8" cy="1057.3" r="6.4" fill="#111"/>
<circle cx="1717.8" cy="1098.0" r="6.4" fill="#111"/>
<circle cx="1717.8" cy="1104.0" r="6.4" fill="#111"/>
<circle cx="1717.8" cy="1112.0" r="6.4" fill="#111"/>
<circle cx="1717.8" cy="1118.0" r="6.4" fill="#111"/>
<circle cx="1717.8" cy="1128.0" r="6.4" fill="#111"/>
<circle cx="1717.8" cy="1134.3" r="6.4" fill="#111"/>
<circle cx="1717.8" cy="1140.7" r="6.4" fill="#111"/>
<circle cx="1717.8" cy="1147.0" r="6.4" fill="#111"/>
<circle cx="1717.8" cy="1153.3" r="6.4" fill="#111"/>
<circle cx="1717.8" cy="1159.7" r="6.4" fill="#111"/>
<circle cx="1717.8" cy="1166.0" r="6.4" fill="#111"/>
<circle cx="1717.8" cy="1172.3" r="6.4" fill="#111"/>
<circle cx="1717.8" cy="1178.7" r="6.4" fill="#111"/>
<circle cx="1717.8" cy="1185.0" r="6.4" fill="#111"/>
<line x1="1717.8" y1="1092.3" x2="1717.8" y2="1182.6" stroke="#111" stroke-width="3.8" stroke-linecap="butt"/>
<line x1="1704.6" y1="1137.7" x2="1731.0" y2="1137.7" stroke="#111" stroke-width="4.3" stroke-linecap="butt"/>
<line x1="1711.2" y1="1092.3" x2="1724.4" y2="1092.3" stroke="#111" stroke-width="3.9" stroke-linecap="round"/>
<line x1="1711.2" y1="1182.6" x2="1724.4" y2="1182.6" stroke="#111" stroke-width="3.9" stroke-linecap="round"/>
<line x1="1633.4" y1="977.0" x2="1715.9" y2="977.0" stroke="#111" stroke-width="4.6" stroke-linecap="round"/>
<text x="1653.57 1667.77 1681.97" y="977.57" font-size="33">***</text>
<line x1="1674.3" y1="1004.6" x2="1716.8" y2="1004.6" stroke="#111" stroke-width="4.6" stroke-linecap="round"/>
<text x="1682.47 1696.67" y="1008.47" font-size="33">**</text>
<circle cx="1786.4" cy="1138.5" r="6.2" fill="none" stroke="#111" stroke-width="4.0"/>
<circle cx="1786.4" cy="1147.0" r="6.2" fill="none" stroke="#111" stroke-width="4.0"/>
<circle cx="1786.4" cy="1153.0" r="6.2" fill="none" stroke="#111" stroke-width="4.0"/>
<circle cx="1786.4" cy="1158.6" r="6.2" fill="none" stroke="#111" stroke-width="4.0"/>
<circle cx="1786.4" cy="1164.1" r="6.2" fill="none" stroke="#111" stroke-width="4.0"/>
<circle cx="1786.4" cy="1169.7" r="6.2" fill="none" stroke="#111" stroke-width="4.0"/>
<circle cx="1786.4" cy="1175.3" r="6.2" fill="none" stroke="#111" stroke-width="4.0"/>
<circle cx="1786.4" cy="1180.9" r="6.2" fill="none" stroke="#111" stroke-width="4.0"/>
<circle cx="1786.4" cy="1186.4" r="6.2" fill="none" stroke="#111" stroke-width="4.0"/>
<circle cx="1786.4" cy="1192.0" r="6.2" fill="none" stroke="#111" stroke-width="4.0"/>
<line x1="1773.3" y1="1174.6" x2="1799.5" y2="1174.6" stroke="#111" stroke-width="4.3" stroke-linecap="butt"/>
<circle cx="1827.1" cy="1128.0" r="8.1" fill="#777"/>
<circle cx="1827.1" cy="1136.0" r="8.1" fill="#777"/>
<circle cx="1827.1" cy="1146.0" r="8.1" fill="#777"/>
<circle cx="1827.1" cy="1153.8" r="8.1" fill="#777"/>
<circle cx="1827.1" cy="1161.7" r="8.1" fill="#777"/>
<circle cx="1827.1" cy="1169.5" r="8.1" fill="#777"/>
<circle cx="1827.1" cy="1177.3" r="8.1" fill="#777"/>
<circle cx="1827.1" cy="1185.2" r="8.1" fill="#777"/>
<circle cx="1827.1" cy="1193.0" r="8.1" fill="#777"/>
<line x1="1827.1" y1="1153.4" x2="1827.1" y2="1189.1" stroke="#111" stroke-width="3.8" stroke-linecap="butt"/>
<line x1="1813.9" y1="1170.9" x2="1840.3" y2="1170.9" stroke="#111" stroke-width="4.3" stroke-linecap="butt"/>
<line x1="1820.6" y1="1153.4" x2="1833.6" y2="1153.4" stroke="#111" stroke-width="3.9" stroke-linecap="round"/>
<line x1="1820.6" y1="1189.1" x2="1833.6" y2="1189.1" stroke="#111" stroke-width="3.9" stroke-linecap="round"/>
<circle cx="1868.3" cy="1041.8" r="6.4" fill="#111"/>
<circle cx="1868.3" cy="1052.3" r="6.4" fill="#111"/>
<circle cx="1868.3" cy="1074.8" r="6.4" fill="#111"/>
<circle cx="1868.3" cy="1085.0" r="6.4" fill="#111"/>
<circle cx="1868.3" cy="1092.3" r="6.4" fill="#111"/>
<circle cx="1868.3" cy="1104.0" r="6.4" fill="#111"/>
<circle cx="1868.3" cy="1116.0" r="6.4" fill="#111"/>
<circle cx="1868.3" cy="1127.0" r="6.4" fill="#111"/>
<circle cx="1868.3" cy="1137.2" r="6.4" fill="#111"/>
<circle cx="1868.3" cy="1147.0" r="6.4" fill="#111"/>
<circle cx="1868.3" cy="1157.2" r="6.4" fill="#111"/>
<circle cx="1868.3" cy="1162.2" r="6.4" fill="#111"/>
<circle cx="1868.3" cy="1175.9" r="6.4" fill="#111"/>
<circle cx="1868.3" cy="1183.4" r="6.4" fill="#111"/>
<line x1="1868.3" y1="1073.6" x2="1868.3" y2="1165.9" stroke="#111" stroke-width="3.8" stroke-linecap="butt"/>
<line x1="1855.1" y1="1119.2" x2="1881.5" y2="1119.2" stroke="#111" stroke-width="4.3" stroke-linecap="butt"/>
<line x1="1861.7" y1="1073.6" x2="1874.9" y2="1073.6" stroke="#111" stroke-width="3.9" stroke-linecap="round"/>
<line x1="1861.7" y1="1165.9" x2="1874.9" y2="1165.9" stroke="#111" stroke-width="3.9" stroke-linecap="round"/>
<line x1="1782.5" y1="993.3" x2="1864.7" y2="993.3" stroke="#111" stroke-width="4.6" stroke-linecap="round"/>
<text x="1801.66 1815.87 1830.07" y="997.57" font-size="33">***</text>
<line x1="1825.5" y1="1024.0" x2="1864.2" y2="1024.0" stroke="#111" stroke-width="4.6" stroke-linecap="round"/>
<text x="1822.96 1837.16 1851.37" y="1026.97" font-size="33">***</text>
</svg>
</body></html>
